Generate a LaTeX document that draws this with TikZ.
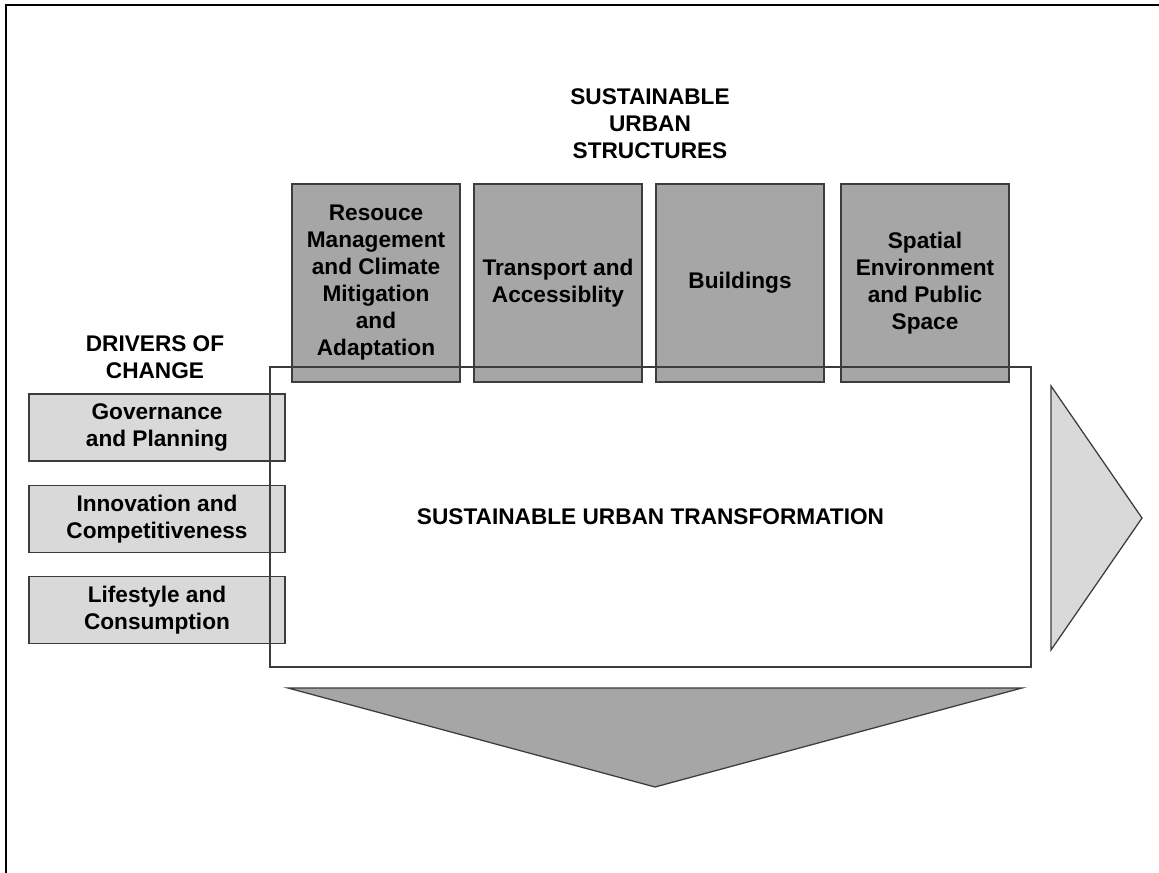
\documentclass[tikz,border=0pt]{standalone}
\usepackage{fontspec}
\setmainfont{Liberation Sans}
\usepackage{tikz}
\usetikzlibrary{shapes, arrows}
\definecolor{darkfill}{HTML}{A6A6A6}
\definecolor{lightfill}{HTML}{D9D9D9}
\definecolor{edge}{HTML}{3C3C3C}
\tikzstyle{structure} = [rectangle, draw=edge, fill=darkfill, line width=0.9pt, align=center, minimum width=4.2cm, minimum height=4.95cm, inner sep=0pt]
\tikzstyle{driver} = [rectangle, draw=edge, fill=lightfill, line width=0.9pt, align=center, minimum width=6.4cm, minimum height=1.675cm, inner sep=0pt]
\tikzstyle{heading} = [draw=none, align=center]
\tikzstyle{stage} = [rectangle, draw=edge, line width=0.9pt, minimum width=19.025cm, minimum height=7.5cm, inner sep=0pt]
\tikzstyle{pointer} = [draw=edge, line width=0.9pt, line join=miter]

\begin{document}
\begin{tikzpicture}[x=0.025cm, y=-0.025cm, font=\fontsize{16.1}{19.2}\selectfont\bfseries]
\useasboundingbox (0,0) rectangle (1159,873);
\draw [line width=2pt] (6,873) -- (6,5) -- (1159,5);

\node [heading] at (650,124) (title_struct) {SUSTAINABLE\\URBAN\\STRUCTURES};
\node [heading] at (155,357) (title_drivers) {DRIVERS OF\\CHANGE};

\node [structure] at (376,283) (struct_1) {Resouce\\Management\\and Climate\\Mitigation\\and\\Adaptation};
\node [structure] at (558,283) (struct_2) {Transport and\\Accessiblity};
\node [structure] at (740,283) (struct_3) {Buildings};
\node [structure] at (925,283) (struct_4) {Spatial\\Environment\\and Public\\Space};

\node [driver] at (157,427.5) (driver_1) {Governance\\and Planning};
\node [driver] at (157,519) (driver_2) {Innovation and\\Competitiveness};
\node [driver] at (157,610) (driver_3) {Lifestyle and\\Consumption};

\node [stage] at (650.5,517) (transform) {SUSTAINABLE URBAN TRANSFORMATION};

\path [pointer, fill=lightfill] (1051,386) -- (1142,518) -- (1051,650) -- cycle;
\path [pointer, fill=darkfill] (288,688) -- (1022,688) -- (655,787) -- cycle;

\end{tikzpicture}
\end{document}
